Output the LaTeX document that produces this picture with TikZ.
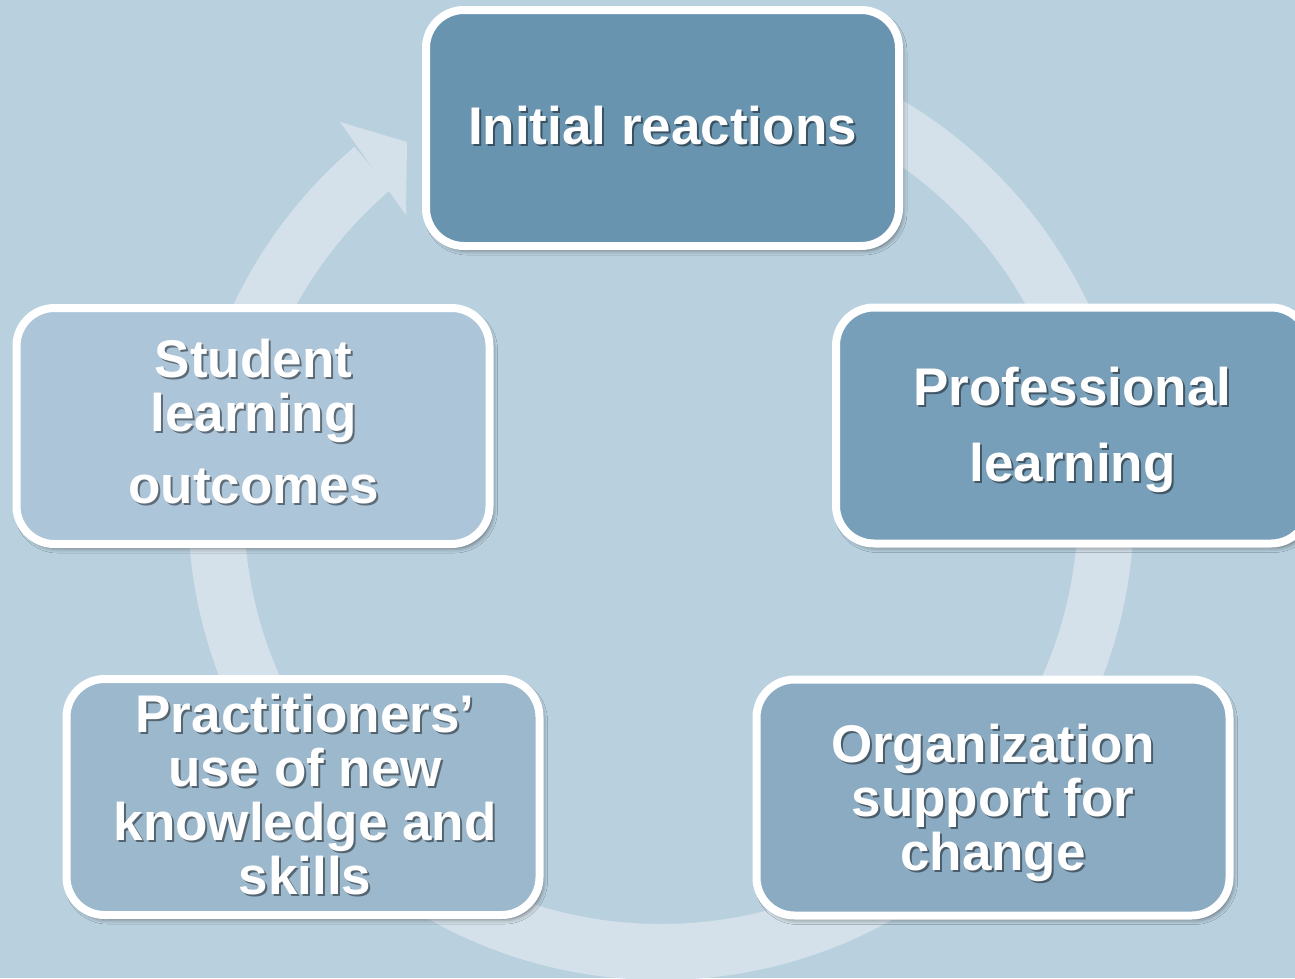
\documentclass[tikz,border=0pt]{standalone}
\usepackage{fontspec}
\setmainfont{Liberation Sans}
\usetikzlibrary{calc,shadows.blur}

\definecolor{bgblue}{HTML}{B9D1DF}
\definecolor{ringblue}{HTML}{D5E1EA}
\definecolor{stageA}{HTML}{6894B0}
\definecolor{stageB}{HTML}{789FB9}
\definecolor{stageC}{HTML}{8AABC2}
\definecolor{stageD}{HTML}{9CB8CD}
\definecolor{stageE}{HTML}{ADC5D9}

\tikzset{
  stagebox/.style={draw=white, line width=8pt, rounded corners=38pt,
    minimum width=473pt, minimum height=236pt, inner sep=0pt,
    blur shadow={shadow xshift=3pt, shadow yshift=-4pt,
      shadow blur radius=5pt, shadow opacity=55}},
  labeltext/.style={text=white, inner sep=0pt, align=center,
    font=\fontsize{53}{54}\selectfont\bfseries},
  labelshade/.style={labeltext, text=black, text opacity=0.45,
    xshift=2pt, yshift=-2pt},
  ringband/.style={draw=ringblue, line width=56pt},
}

% white label with its soft dark shadow
\newcommand\stagelabel[3]{%
  \node[labelshade] (#1-shade) at #2 {#3};
  \node[labeltext] (#1-text) at #2 {#3};
}

\begin{document}
\begin{tikzpicture}[x=1pt, y=-1pt]
  \useasboundingbox (0,0) rectangle (1295,978);
  \clip (0,0) rectangle (1295,978);
  \fill[bgblue] (0,0) rectangle (1295,978);

  % circular arrow behind the stages
  \coordinate (hub) at (661,507);
  \draw[ringband] ($(hub)+(-90:445)$) arc[start angle=-90, end angle=229.6, radius=445];
  \fill[ringblue] (340,122) -- (407,142) -- (406,215) -- cycle;

  % stages
  \node[stagebox, fill=stageA] (init) at (662.5,128) {};
  \node[stagebox, fill=stageB] (prof) at (1072.5,425.5) {};
  \node[stagebox, fill=stageC] (org)  at (993,797.5) {};
  \node[stagebox, fill=stageD] (prac) at (303,797) {};
  \node[stagebox, fill=stageE] (stud) at (253,426) {};

  \stagelabel{init}{($(init.center)+(0,-2)$)}{Initial reactions}
  \stagelabel{prof}{($(prof.center)+(0,4.5)$)}{Professional\\[22pt]learning}
  \stagelabel{org}{($(org.center)+(0,5)$)}{Organization\\support for\\change}
  \stagelabel{prac}{($(prac.center)+(2,-2)$)}{Practitioners’\\use of new\\knowledge and\\skills}
  \stagelabel{stud}{($(stud.center)+(0.5,-4)$)}{\fontsize{53}{55}\selectfont Student\\learning\\[18pt]outcomes}
\end{tikzpicture}
\end{document}
